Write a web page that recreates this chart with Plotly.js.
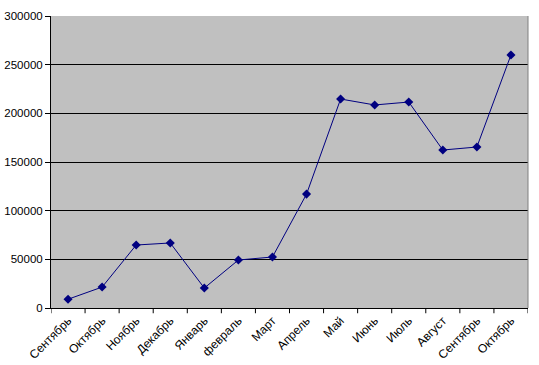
<!DOCTYPE html>
<html>
<head>
<meta charset="utf-8">
<script src="https://cdn.plot.ly/plotly-3.0.1.min.js"></script>
<style>html,body{margin:0;padding:0;background:#fff;}</style>
</head>
<body>
<div id="chart" style="width:539px;height:365px;"></div>
<script>
const categories = ["Сентябрь","Октябрь","Ноябрь","Декабрь","Январь","февраль","Март","Апрель","Май","Июнь","Июль","Август","Сентябрь","Октябрь"];
const values = [9000, 21500, 64700, 66800, 20500, 49300, 52400, 117000, 214700, 208600, 211600, 162300, 165400, 260000];
const yTicks = [0, 50000, 100000, 150000, 200000, 250000, 300000];

const xIdx = categories.map((c, i) => i);

Plotly.newPlot('chart', [{
  x: xIdx,
  y: values,
  type: 'scatter',
  mode: 'lines+markers',
  line: {color: '#000080', width: 1},
  marker: {symbol: 'diamond', size: 7, color: '#000080'},
  hoverinfo: 'skip'
}], {
  width: 539, height: 365,
  margin: {l: 51, r: 11, t: 16, b: 57},
  paper_bgcolor: '#ffffff',
  plot_bgcolor: '#c0c0c0',
  showlegend: false,
  font: {family: 'Liberation Sans, Arial, sans-serif', size: 11, color: '#000'},
  xaxis: {
    range: [-0.5, 13.5],
    tickmode: 'array',
    tickvals: xIdx,
    ticktext: categories,
    tickangle: -45,
    showgrid: false,
    zeroline: false,
    showline: true,
    linecolor: '#000',
    linewidth: 1,
    ticks: '',
    tickfont: {size: 12},
    fixedrange: true
  },
  yaxis: {
    range: [0, 300000],
    tickmode: 'array',
    tickvals: yTicks,
    ticktext: yTicks.map(String),
    showgrid: true,
    gridcolor: '#000',
    gridwidth: 1,
    zeroline: false,
    showline: true,
    linecolor: '#000',
    linewidth: 1,
    ticks: 'outside',
    ticklen: 5,
    tickcolor: '#000',
    tickfont: {size: 11.5},
    fixedrange: true
  },
  shapes: [
    {type: 'line', xref: 'paper', yref: 'paper', x0: 1, x1: 1, y0: 0, y1: 1, line: {color: '#808080', width: 1}}
  ].concat(xIdx.concat([14]).map(i => ({
    type: 'line', xref: 'x', yref: 'paper', x0: i - 0.5, x1: i - 0.5, y0: 0, y1: -0.018,
    line: {color: '#000', width: 1}
  })))
}, {staticPlot: true});
</script>
</body>
</html>
